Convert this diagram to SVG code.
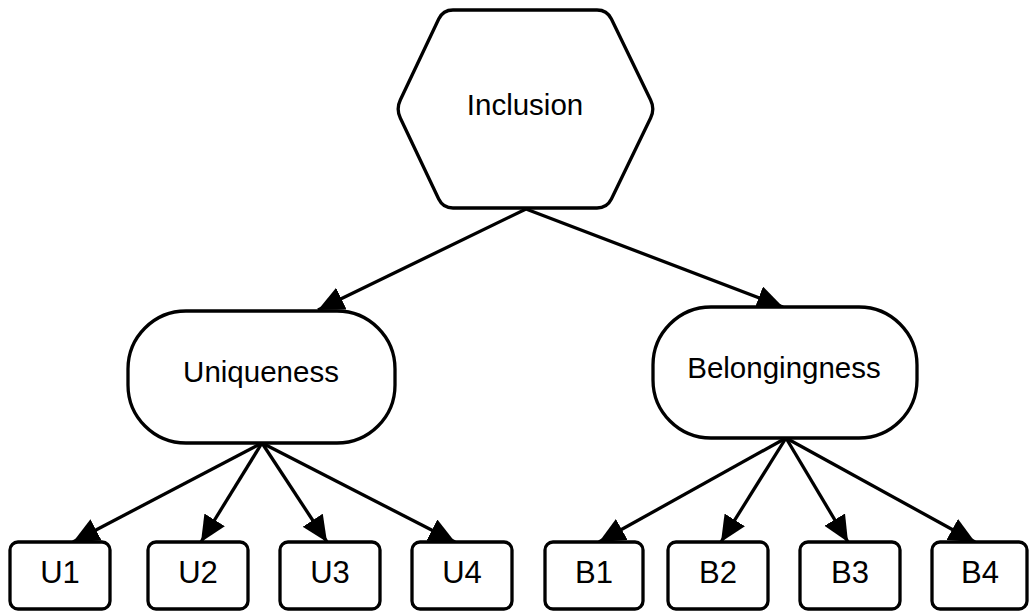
<svg xmlns="http://www.w3.org/2000/svg" width="1029" height="611" viewBox="0 0 1029 611">
<defs>
<marker id="arr" markerUnits="userSpaceOnUse" markerWidth="30" markerHeight="26" refX="26" refY="12" orient="auto">
<path d="M0,0 L26,12 L0,24 Z" fill="#000"/>
</marker>
<style>
.shape{fill:#fff;stroke:#000;stroke-width:3.3}
.lbl{font-family:"Liberation Sans",Arial,sans-serif;font-size:29.5px;fill:#000;text-anchor:middle}
.leaf{font-size:31px}
.edge{stroke:#000;stroke-width:3.3;fill:none;marker-end:url(#arr)}
</style>
</defs>
<rect width="1029" height="611" fill="#fff"/>
<g id="connectors">
<line class="edge" x1="526" y1="209" x2="318" y2="310"/>
<line class="edge" x1="526" y1="209" x2="783" y2="307"/>
<line class="edge" x1="262" y1="443" x2="73" y2="542"/>
<line class="edge" x1="262" y1="443" x2="201" y2="542"/>
<line class="edge" x1="262" y1="443" x2="327" y2="542"/>
<line class="edge" x1="262" y1="443" x2="455" y2="542"/>
<line class="edge" x1="786" y1="438" x2="599" y2="542"/>
<line class="edge" x1="786" y1="438" x2="721" y2="542"/>
<line class="edge" x1="786" y1="438" x2="848" y2="542"/>
<line class="edge" x1="786" y1="438" x2="975" y2="542"/>
</g>
<g id="inclusion">
<path class="shape" d="M453,10 L597,10 Q607,10 611.4,19 L650.6,100 Q655,109 650.6,118 L611.4,199 Q607,208 597,208 L453,208 Q443,208 438.7,199 L400.3,118 Q396,109 400.3,100 L438.7,19 Q443,10 453,10 Z"/>
<text class="lbl" x="525" y="115">Inclusion</text>
</g>
<g id="uniqueness">
<rect class="shape" x="128" y="311" width="267" height="132" rx="58" ry="58"/>
<text class="lbl" x="261" y="382">Uniqueness</text>
</g>
<g id="belongingness">
<rect class="shape" x="653" y="307" width="264" height="131" rx="58" ry="58"/>
<text class="lbl" x="784" y="378">Belongingness</text>
</g>
<g id="u1"><rect class="shape" x="10" y="542" width="100" height="67" rx="8"/><text class="lbl leaf" x="60" y="583">U1</text></g>
<g id="u2"><rect class="shape" x="148" y="542" width="100" height="67" rx="8"/><text class="lbl leaf" x="198" y="583">U2</text></g>
<g id="u3"><rect class="shape" x="280" y="542" width="100" height="67" rx="8"/><text class="lbl leaf" x="330" y="583">U3</text></g>
<g id="u4"><rect class="shape" x="412" y="542" width="100" height="67" rx="8"/><text class="lbl leaf" x="462" y="583">U4</text></g>
<g id="b1"><rect class="shape" x="545" y="542" width="98" height="67" rx="8"/><text class="lbl leaf" x="594" y="583">B1</text></g>
<g id="b2"><rect class="shape" x="668" y="542" width="100" height="67" rx="8"/><text class="lbl leaf" x="718" y="583">B2</text></g>
<g id="b3"><rect class="shape" x="800" y="542" width="100" height="67" rx="8"/><text class="lbl leaf" x="850" y="583">B3</text></g>
<g id="b4"><rect class="shape" x="932" y="542" width="95" height="67" rx="8"/><text class="lbl leaf" x="980" y="583">B4</text></g>
</svg>
